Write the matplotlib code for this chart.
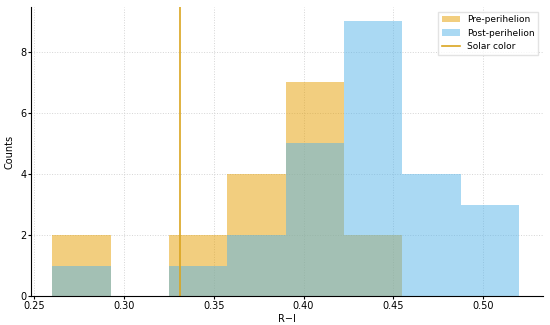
import numpy as np
import matplotlib

matplotlib.use("Agg")
import matplotlib.pyplot as plt

# ---------------------------------------------------------------------------
# Data (histogram counts)
# ---------------------------------------------------------------------------
bin_edges = [0.26, 0.2925, 0.325, 0.3575, 0.39, 0.4225, 0.455, 0.4875, 0.52]
pre_counts = [2, 0, 2, 4, 7, 2, 0, 0]
post_counts = [1, 0, 1, 2, 5, 9, 4, 3]
solar_color = 0.331

plt.rcParams.update({"font.size": 7})

fig, ax = plt.subplots(figsize=(5.5, 3.25), dpi=100)

centers = [(a + b) / 2 for a, b in zip(bin_edges[:-1], bin_edges[1:])]
ax.hist(centers, bins=bin_edges, weights=pre_counts, color="#E69F00", alpha=0.5,
        label="Pre-perihelion")
ax.hist(centers, bins=bin_edges, weights=post_counts, color="#56B4E9", alpha=0.5,
        label="Post-perihelion")
ax.axvline(solar_color, color="goldenrod", lw=1.2, label="Solar color")

ax.set_xlim(0.2483, 0.5334)
ax.set_xlabel("R\u2212I", labelpad=2)
ax.set_ylabel("Counts", labelpad=4)
ax.grid(True, linestyle=":", color="#d5d5d5", lw=0.7)
ax.set_axisbelow(True)
for s in ["top", "right"]:
    ax.spines[s].set_visible(False)
ax.tick_params(length=2, pad=1.5)

ax.legend(loc="upper right", fontsize=6.5, frameon=True, edgecolor="#dddddd",
          fancybox=False)

fig.subplots_adjust(left=0.057, right=0.987, top=0.978, bottom=0.088)
fig.savefig("out.png", dpi=100)
